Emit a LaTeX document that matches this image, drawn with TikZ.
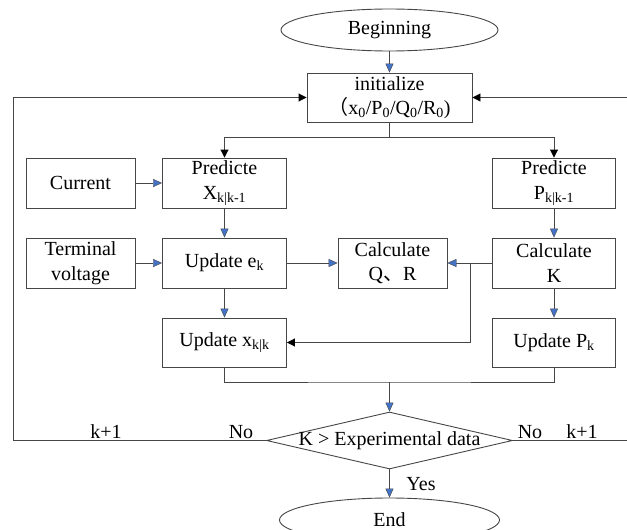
\documentclass[tikz,border=0pt]{standalone}
\usepackage{fontspec}
\setmainfont{Liberation Serif}
\newfontfamily\cjk{Noto Sans CJK SC}
\usetikzlibrary{shapes.geometric,arrows.meta}
\definecolor{linecol}{RGB}{70,70,70}
\definecolor{tipblue}{RGB}{68,114,196}
\newcommand{\sbs}[1]{\textsubscript{#1}}
\begin{document}
\begin{tikzpicture}[x=1pt,y=1pt,
  font=\fontsize{20}{24.5}\selectfont,
  box/.style={draw=linecol,line width=0.9pt,rectangle,inner sep=0pt,align=center,minimum height=50pt},
  oval/.style={draw=linecol,line width=0.9pt,ellipse,inner sep=0pt,minimum width=217pt,minimum height=42pt},
  link/.style={draw=linecol,line width=0.9pt},
  barrow/.style={link,-{Triangle[length=9pt,width=8pt,fill=tipblue,line width=0.4pt]}},
  karrow/.style={link,-{Triangle[length=8pt,width=8pt,fill=black,color=black]}},
  lbl/.style={inner sep=0pt}]
\useasboundingbox (0,0) rectangle (627,-530);

% start / end
\node[oval] (begin) at (389.5,-30) {Beginning};
\node[box,minimum width=165pt,minimum height=49pt] (init) at (389.5,-97.5) {initialize\\{\cjk （}x\sbs{0}/P\sbs{0}/Q\sbs{0}/R\sbs{0})};

% first row
\node[box,minimum width=109pt] (current) at (80.5,-183) {Current};
\node[box,minimum width=124pt] (predX) at (224.5,-183) {Predicte\\X\sbs{k|k-1}};
\node[box,minimum width=123pt] (predP) at (554,-183) {Predicte\\P\sbs{k|k-1}};

% second row
\node[box,minimum width=109pt] (term) at (80.5,-263) {Terminal\\voltage};
\node[box,minimum width=124pt] (upde) at (224.5,-263) {Update e\sbs{k}};
\node[box,minimum width=109pt] (calcQR) at (392.5,-263) {Calculate\\Q{\cjk 、}R};
\node[box,minimum width=123pt] (calcK) at (554,-263) {Calculate\\K};

% third row
\node[box,minimum width=124pt,minimum height=49pt] (updx) at (224.5,-342.5) {Update x\sbs{k|k}};
\node[box,minimum width=123pt,minimum height=49pt] (updP) at (554,-342.5) {Update P\sbs{k}};

% decision
\node[diamond,draw=linecol,line width=0.9pt,inner sep=0pt,minimum width=246pt,minimum height=57pt] (dec) at (389.5,-440.5) {\raisebox{-2pt}{\makebox[0pt]{K > Experimental data}}};
\node[oval,minimum width=220pt,minimum height=44pt] (end) at (389.5,-520) {End};

% labels
\node[lbl] (lk1) at (106,-432) {k+1};
\node[lbl] (lno) at (241,-432) {No};
\node[lbl] (rno) at (530,-432) {No};
\node[lbl] (rk1) at (582,-432) {k+1};
\node[lbl] (yes) at (421,-484) {Yes};

% helper points
\coordinate (split) at (389.5,-137);
\coordinate (tap) at (470,-263);
\coordinate (merge) at (389.5,-382);
\coordinate (lft) at (13,-440.5);
\coordinate (rgt) at (629,-440.5);

% connectors
\draw[barrow] (begin) -- (init);
\draw[link] (init.south) -- (split);
\draw[karrow] (split) -| (predX.north);
\draw[karrow] (split) -| (predP.north);
\draw[barrow] (current) -- (predX);
\draw[barrow] (predX) -- (upde);
\draw[barrow] (term) -- (upde);
\draw[barrow] (upde) -- (calcQR);
\draw[barrow] (calcK) -- (calcQR);
\draw[karrow] (tap) |- (updx.east);
\draw[barrow] (upde) -- (updx);
\draw[barrow] (predP) -- (calcK);
\draw[barrow] (calcK) -- (updP);
\draw[link] (updx.south) |- (merge) -| (updP.south);
\draw[barrow] (merge) -- (dec.north);
\draw[barrow] (dec.south) -- (end.north);
\draw[karrow] (dec.west) -- (lft) |- (init.west);
\draw[karrow] (dec.east) -- (rgt) |- (init.east);
\end{tikzpicture}
\end{document}
